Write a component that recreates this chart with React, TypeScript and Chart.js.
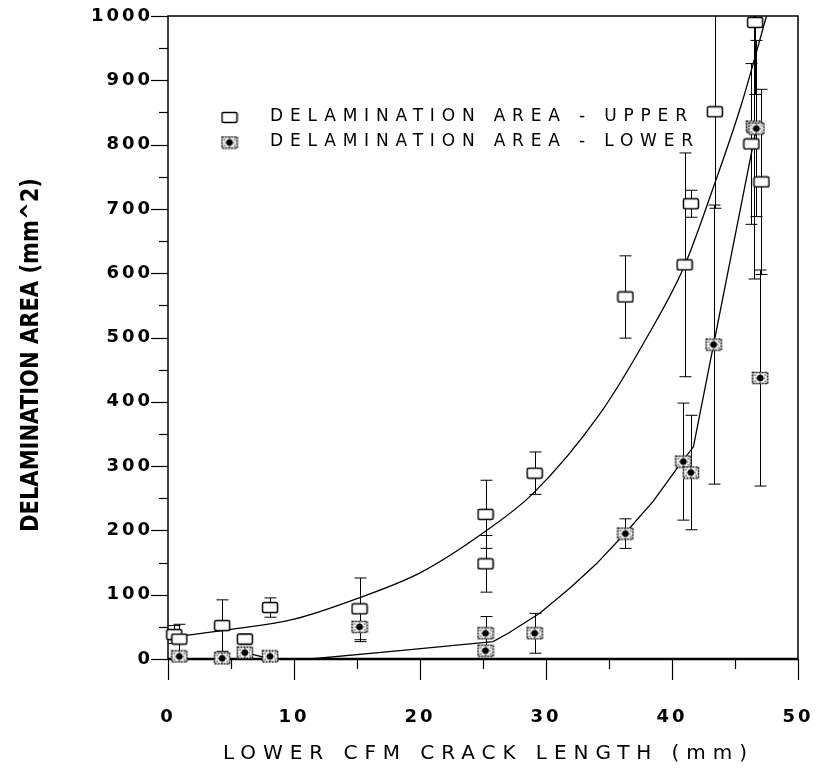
import React, { useEffect, useRef } from "react";
import { Chart, registerables } from "chart.js";

Chart.register(...registerables);

// ---- data ----
const xTickValues = [0, 10, 20, 30, 40, 50];
const yTickValues = [0, 100, 200, 300, 400, 500, 600, 700, 800, 900, 1000];

const X_TITLE = "LOWER CFM CRACK LENGTH (mm)";
const Y_TITLE = "DELAMINATION AREA (mm^2)";
const LEGEND_UPPER = "DELAMINATION AREA - UPPER";
const LEGEND_LOWER = "DELAMINATION AREA - LOWER";

const upperX = [0.5, 0.9, 4.3, 6.1, 8.1, 15.2, 25.2, 25.2, 29.1, 36.3, 41.0, 41.5, 43.4, 46.3, 46.6, 47.1];
const upperY = [38, 31, 52, 31, 80, 78, 225, 148, 289, 563, 613, 708, 851, 801, 990, 742];
const upperErr = [14, 23, 40, 8, 15, 48, 53, 44, 33, 64, 174, 21, 150, 125, 112, 144];

const lowerX = [0.9, 4.3, 6.1, 8.1, 15.2, 25.2, 25.2, 29.1, 36.3, 40.9, 41.5, 43.3, 46.5, 46.7, 47.0];
const lowerY = [4, 1, 10, 4, 50, 40, 13, 40, 195, 307, 290, 489, 828, 825, 437];
const lowerErr = [3, 2, 5, 3, 23, 26, 5, 31, 23, 91, 89, 217, 237, 137, 168];

const upperFitX = [0.8, 5, 10, 15, 20, 25, 29, 34.3, 38, 41, 43.2, 45.5, 47.5];
const upperFitY = [35, 46, 62, 94, 134, 196, 258, 382, 500, 612, 729, 862, 1000];

const lowerFitX = [6.1, 8.0, 11.3, 18.4, 25.8, 27, 29.5, 32, 34, 36.3, 38.5, 40.5, 41.7, 43.3, 46.7];
const lowerFitY = [10, 1, 0, 13, 27, 40, 71, 112, 148, 196, 245, 299, 330, 489, 826];

function makeUpperMark(): HTMLCanvasElement {
  const c = document.createElement("canvas");
  c.width = 18;
  c.height = 13;
  const g = c.getContext("2d")!;
  g.fillStyle = "#fff";
  g.strokeStyle = "#000";
  g.lineWidth = 1.5;
  g.beginPath();
  (g as any).roundRect(1.5, 1.5, 15, 10, 1.5);
  g.fill();
  g.stroke();
  return c;
}

function makeLowerMark(): HTMLCanvasElement {
  const c = document.createElement("canvas");
  c.width = 18;
  c.height = 14;
  const g = c.getContext("2d")!;
  g.fillStyle = "#fff";
  g.fillRect(1, 1, 16, 12);
  g.strokeStyle = "#000";
  g.lineWidth = 1.6;
  g.setLineDash([2, 1]);
  g.strokeRect(1.5, 1.5, 15, 11);
  g.setLineDash([]);
  g.fillStyle = "#000";
  g.beginPath();
  g.arc(9, 7, 3.3, 0, Math.PI * 2);
  g.fill();
  const specks = [[4, 4], [14, 4], [4, 10], [14, 10], [9, 3], [9, 11], [5, 7], [13, 7]];
  for (const [sx, sy] of specks) g.fillRect(sx - 0.5, sy - 0.5, 1.2, 1.2);
  return c;
}

export default function App() {
  const ref = useRef<HTMLCanvasElement>(null);

  useEffect(() => {
    const canvas = ref.current!;
    const upperMark = makeUpperMark();
    const lowerMark = makeLowerMark();

    const errorBars = {
      id: "errorBars",
      beforeDatasetsDraw(chart: any) {
        const ctx = chart.ctx;
        const ys = chart.scales.y;
        const area = chart.chartArea;
        ctx.save();
        ctx.beginPath();
        ctx.rect(area.left, area.top, area.right - area.left, area.bottom - area.top + 6);
        ctx.clip();
        ctx.strokeStyle = "#000";
        ctx.lineWidth = 1;
        chart.data.datasets.forEach((ds: any, i: number) => {
          if (!ds.errs) return;
          const meta = chart.getDatasetMeta(i);
          meta.data.forEach((pt: any, j: number) => {
            const v = ds.data[j].y;
            const e = ds.errs[j];
            const x = Math.round(pt.x) + 0.5;
            const y1 = ys.getPixelForValue(v + e);
            const y2 = ys.getPixelForValue(v - e);
            ctx.beginPath();
            ctx.moveTo(x, y1);
            ctx.lineTo(x, y2);
            ctx.moveTo(x - 6, y1);
            ctx.lineTo(x + 6, y1);
            ctx.moveTo(x - 6, y2);
            ctx.lineTo(x + 6, y2);
            ctx.stroke();
          });
        });
        ctx.restore();
      },
    };

    const frame = {
      id: "frame",
      beforeDraw(chart: any) {
        (chart.ctx as any).letterSpacing = "3px";
      },
      beforeDatasetsDraw(chart: any) {
        const ctx = chart.ctx;
        const xs = chart.scales.x;
        const ys = chart.scales.y;
        const { left, right, top } = chart.chartArea;
        const zeroY = ys.getPixelForValue(0);
        ctx.save();
        ctx.strokeStyle = "#000";
        ctx.lineWidth = 1.5;
        ctx.beginPath();
        ctx.moveTo(left, zeroY);
        ctx.lineTo(left, top);
        ctx.lineTo(right, top);
        ctx.lineTo(right, zeroY);
        ctx.stroke();
        // y ticks (outward, left)
        ctx.lineWidth = 1.2;
        for (let v = 0; v <= 1000; v += 50) {
          const y = Math.round(ys.getPixelForValue(v)) + 0.5;
          const len = v % 100 === 0 ? 17 : 9;
          ctx.beginPath();
          ctx.moveTo(left - len, y);
          ctx.lineTo(left, y);
          ctx.stroke();
        }
        // x ticks (downward from zero line)
        for (let v = 0; v <= 50; v += 5) {
          const x = Math.round(xs.getPixelForValue(v)) + 0.5;
          const len = v % 10 === 0 ? 21 : 10;
          ctx.beginPath();
          ctx.moveTo(x, zeroY);
          ctx.lineTo(x, zeroY + len);
          ctx.stroke();
        }
        // zero line
        ctx.lineWidth = 2.5;
        ctx.beginPath();
        ctx.moveTo(left, zeroY);
        ctx.lineTo(right, zeroY);
        ctx.stroke();
        ctx.restore();
      },
      afterDraw(chart: any) {
        const ctx = chart.ctx;
        ctx.save();
        ctx.fillStyle = "#000";
        // legend
        ctx.font = "17px 'DejaVu Sans'";
        ctx.textBaseline = "middle";
        ctx.textAlign = "left";
        (ctx as any).letterSpacing = "0px";
        const w0 = ctx.measureText(LEGEND_UPPER).width;
        const ls = (417 - w0) / (LEGEND_UPPER.length - 1);
        (ctx as any).letterSpacing = ls + "px";
        ctx.drawImage(upperMark, 229.5 - 9, 117.5 - 6.5);
        ctx.fillText(LEGEND_UPPER, 270, 116.5);
        ctx.drawImage(lowerMark, 229.5 - 9, 142.5 - 7);
        ctx.fillText(LEGEND_LOWER, 270, 142);
        // x title
        ctx.font = "20px 'DejaVu Sans'";
        (ctx as any).letterSpacing = "0px";
        const wx = ctx.measureText(X_TITLE).width;
        const lsx = (524 - wx) / (X_TITLE.length - 1);
        (ctx as any).letterSpacing = lsx + "px";
        ctx.fillText(X_TITLE, 223, 754);
        // y title (condensed, rotated)
        (ctx as any).letterSpacing = "0px";
        ctx.font = "bold 25px 'DejaVu Sans'";
        const wy = ctx.measureText(Y_TITLE).width;
        const sx = 354 / wy;
        ctx.translate(31, 355);
        ctx.rotate(-Math.PI / 2);
        ctx.scale(sx, 1);
        ctx.textAlign = "center";
        ctx.fillText(Y_TITLE, 0, 0);
        ctx.restore();
      },
    };

    const chart = new Chart(canvas, {
      type: "scatter",
      data: {
        datasets: [
          {
            label: "upper",
            data: upperX.map((x, i) => ({ x, y: upperY[i] })),
            pointStyle: upperMark as any,
            errs: upperErr,
            order: 1,
            clip: false,
          } as any,
          {
            label: "lower",
            data: lowerX.map((x, i) => ({ x, y: lowerY[i] })),
            pointStyle: lowerMark as any,
            errs: lowerErr,
            order: 0,
            clip: false,
          } as any,
          {
            label: "upperFit",
            data: upperFitX.map((x, i) => ({ x, y: upperFitY[i] })),
            showLine: true,
            pointRadius: 0,
            borderColor: "#000",
            borderWidth: 1.3,
            cubicInterpolationMode: "monotone",
            order: 2,
          } as any,
          {
            label: "lowerFit",
            data: lowerFitX.map((x, i) => ({ x, y: lowerFitY[i] })),
            showLine: true,
            pointRadius: 0,
            borderColor: "#000",
            borderWidth: 1.3,
            tension: 0,
            order: 3,
          } as any,
        ],
      },
      options: {
        animation: false,
        responsive: false,
        devicePixelRatio: 1,
        layout: { padding: { top: 16, right: 18, left: 0, bottom: 0 } },
        plugins: { legend: { display: false }, tooltip: { enabled: false } },
        scales: {
          x: {
            type: "linear",
            min: 0,
            max: 50,
            afterBuildTicks: (s: any) => {
              s.ticks = xTickValues.map((v) => ({ value: v }));
            },
            afterFit: (s: any) => {
              s.height = 117;
              s.paddingLeft = 0;
              s.paddingRight = 0;
            },
            grid: { display: false, drawTicks: false },
            border: { display: false },
            ticks: {
              padding: 48,
              maxRotation: 0,
              color: "#000",
              font: { family: "'DejaVu Sans'", size: 18, weight: "bold" },
              callback: (v: any) => String(v),
            },
          },
          y: {
            type: "linear",
            min: 0,
            max: 1000,
            afterBuildTicks: (s: any) => {
              s.ticks = yTickValues.map((v) => ({ value: v }));
            },
            afterFit: (s: any) => {
              s.width = 168;
              s.paddingTop = 0;
              s.paddingBottom = 0;
            },
            grid: { display: false, drawTicks: false },
            border: { display: false },
            ticks: {
              padding: 15,
              color: "#000",
              font: { family: "'DejaVu Sans'", size: 18, weight: "bold" },
              callback: (v: any) => String(v),
            },
          },
        },
      },
      plugins: [frame, errorBars],
    } as any);

    return () => chart.destroy();
  }, []);

  return (
    <div style={{ position: "fixed", left: 0, top: 0, width: 816, height: 776, background: "#fff" }}>
      <canvas ref={ref} width={816} height={776} style={{ display: "block", width: 816, height: 776 }} />
    </div>
  );
}
